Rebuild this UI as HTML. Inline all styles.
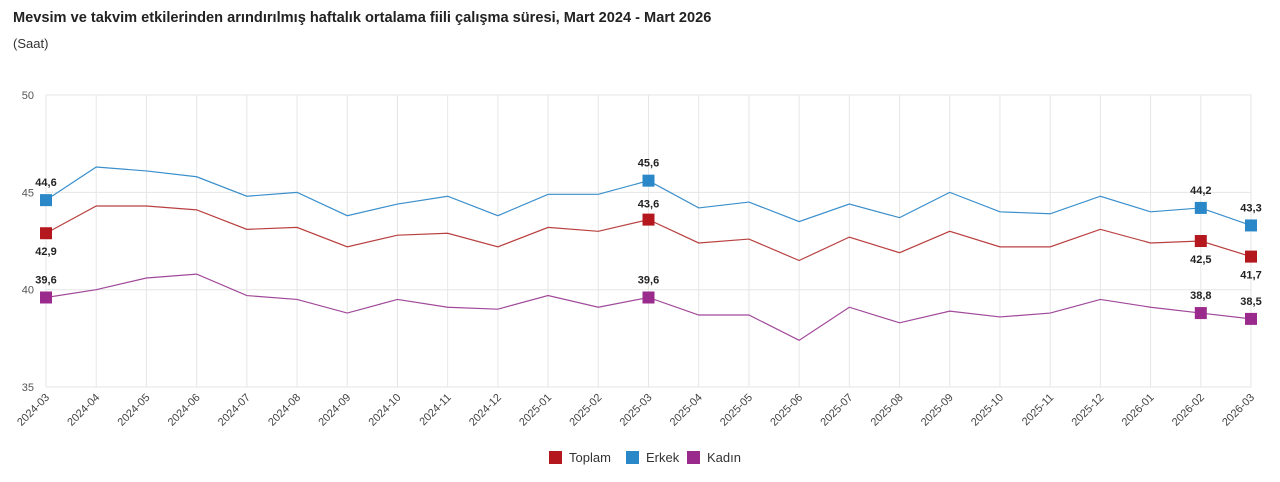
<!DOCTYPE html>
<html><head><meta charset="utf-8"><style>
body{margin:0;background:#fff;font-family:"Liberation Sans",sans-serif;}
</style></head><body>
<svg width="1280" height="477" xmlns="http://www.w3.org/2000/svg" font-family="Liberation Sans, sans-serif">
<text x="13" y="22" font-size="14.6" font-weight="bold" fill="#222">Mevsim ve takvim etkilerinden arındırılmış haftalık ortalama fiili çalışma süresi, Mart 2024 - Mart 2026</text>
<text x="13" y="48" font-size="13" fill="#333">(Saat)</text>
<g id="grid" stroke="#e6e6e6" stroke-width="1"></g>
<g id="ylab" font-size="11" fill="#555" text-anchor="end"></g>
<g id="xlab" font-size="11" fill="#444"></g>
<g id="lines"></g>
<g id="lbl" font-size="11" font-weight="bold" fill="#222" text-anchor="middle"></g>
<g font-size="13" fill="#333">
<rect x="549" y="451" width="13" height="13" fill="#b5171f"/><text x="569" y="462">Toplam</text>
<rect x="626" y="451" width="13" height="13" fill="#2b88c8"/><text x="646" y="462">Erkek</text>
<rect x="687" y="451" width="13" height="13" fill="#9a2a8c"/><text x="707" y="462">Kadın</text>
</g>
</svg>
<script>
const ns="http://www.w3.org/2000/svg";
const x0=46,x1=1251,N=25,dx=(x1-x0)/24;
const Y=v=>95+(50-v)*19.47;
const X=i=>x0+i*dx;
function el(t,a,p){const e=document.createElementNS(ns,t);for(const k in a)e.setAttribute(k,a[k]);document.getElementById(p).appendChild(e);return e;}
const months=[];for(let i=0;i<N;i++){let m=3+i,y=2024+Math.floor((m-1)/12);m=((m-1)%12)+1;months.push(y+"-"+String(m).padStart(2,"0"));}
for(let i=0;i<N;i++){el("line",{x1:X(i),x2:X(i),y1:95,y2:387},"grid");
const t=el("text",{transform:`translate(${X(i)+4},${398}) rotate(-45)`,"text-anchor":"end"},"xlab");t.textContent=months[i];}
[50,45,40,35].forEach(v=>{el("line",{x1:x0,x2:x1,y1:Y(v),y2:Y(v)},"grid");const t=el("text",{x:34,y:Y(v)+4},"ylab");t.textContent=v;});
const S=[
["#2b88c8","#3a8fcc",[44.6,46.3,46.1,45.8,44.8,45.0,43.8,44.4,44.8,43.8,44.9,44.9,45.6,44.2,44.5,43.5,44.4,43.7,45.0,44.0,43.9,44.8,44.0,44.2,43.3],-1],
["#b5171f","#b94040",[42.9,44.3,44.3,44.1,43.1,43.2,42.2,42.8,42.9,42.2,43.2,43.0,43.6,42.4,42.6,41.5,42.7,41.9,43.0,42.2,42.2,43.1,42.4,42.5,41.7],1],
["#9a2a8c","#a0489a",[39.6,40.0,40.6,40.8,39.7,39.5,38.8,39.5,39.1,39.0,39.7,39.1,39.6,38.7,38.7,37.4,39.1,38.3,38.9,38.6,38.8,39.5,39.1,38.8,38.5],-1]];
S.forEach(([c,lc,d,dir],si)=>{
el("polyline",{points:d.map((v,i)=>X(i)+","+Y(v)).join(" "),fill:"none",stroke:lc,"stroke-width":1.2},"lines");
[0,12,23,24].forEach(i=>{el("rect",{x:X(i)-6,y:Y(d[i])-6,width:12,height:12,fill:c},"lines");
let off=si==1?(i==0||i>=23?22:-12):-14;
const t=el("text",{x:X(i),y:Y(d[i])+off},"lbl");t.textContent=String(d[i]).replace(".",",");});
});
</script>
</body></html>
